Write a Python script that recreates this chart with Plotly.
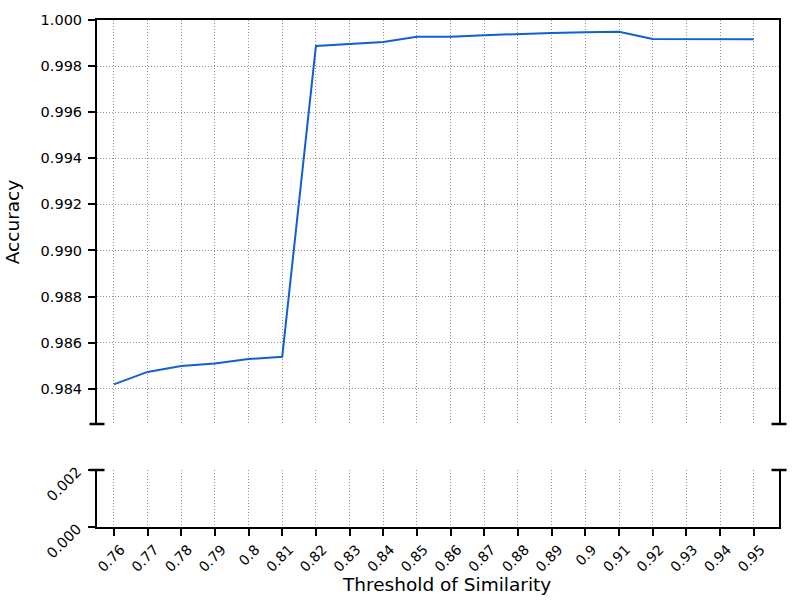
import plotly.graph_objects as go

thresholds = ["0.76", "0.77", "0.78", "0.79", "0.8", "0.81", "0.82", "0.83", "0.84", "0.85",
              "0.86", "0.87", "0.88", "0.89", "0.9", "0.91", "0.92", "0.93", "0.94", "0.95"]
accuracy = [0.98419, 0.98473, 0.98499, 0.98510, 0.98529, 0.98539, 0.99887, 0.99897, 0.99905, 0.99927,
            0.99927, 0.99934, 0.99940, 0.99944, 0.99947, 0.99949, 0.99918, 0.99918, 0.99918, 0.99917]
top_ticks = [0.984, 0.986, 0.988, 0.990, 0.992, 0.994, 0.996, 0.998, 1.000]
bottom_ticks = [0.000, 0.002]

idx = list(range(len(thresholds)))
FONT = "DejaVu Sans"
GRID = "#8f988f"
DOT = "1px,2px"
TOP_DOM = [(527 - 424) / 507, 1.0]
BOT_DOM = [0.0, (527 - 470) / 507]

fig = go.Figure()
fig.add_trace(go.Scatter(x=idx, y=accuracy, xaxis="x2", yaxis="y2", mode="lines",
                         line=dict(color="#1060d0", width=2), showlegend=False, hoverinfo="x+y"))
# same series on the lower (0-0.002) panel; it lies above that panel's range and is clipped away
fig.add_trace(go.Scatter(x=idx, y=accuracy, xaxis="x", yaxis="y", mode="lines",
                         line=dict(color="#1060d0", width=2), showlegend=False, hoverinfo="skip"))

common_x = dict(range=[-0.5, 19.75], tickvals=idx, ticktext=thresholds, automargin=False,
                showgrid=True, gridcolor=GRID, griddash=DOT, gridwidth=1, zeroline=False)

fig.update_layout(
    width=800, height=603,
    margin=dict(l=97, r=21, t=20, b=76),
    paper_bgcolor="white", plot_bgcolor="white",
    font=dict(family=FONT, size=14.5, color="black"),
    xaxis=dict(**common_x, anchor="y", showline=True, linecolor="black", linewidth=2,
               ticks="outside", ticklen=7, tickwidth=2, tickcolor="black", tickangle=-45,
               tickfont=dict(size=14), ticklabelshift=7, ticklabelstandoff=0),
    xaxis2=dict(**common_x, anchor="y2", matches="x", side="top", showline=True,
                linecolor="black", linewidth=2, ticks="", showticklabels=False),
    yaxis=dict(domain=BOT_DOM, range=[0, 0.002], tickvals=bottom_ticks, automargin=False,
               ticktext=["%.3f" % v for v in bottom_ticks], tickangle=-45,
               ticklabelstandoff=8,
               showline=True, mirror=True, linecolor="black", linewidth=2,
               ticks="outside", ticklen=7, tickwidth=2, tickcolor="black",
               showgrid=True, gridcolor=GRID, griddash=DOT, gridwidth=1, zeroline=False),
    yaxis2=dict(domain=TOP_DOM, range=[0.98247, 1.0], tickvals=top_ticks, automargin=False,
                ticktext=["%.3f" % v for v in top_ticks], anchor="x2", ticklabelstandoff=3,
                showline=True, mirror=True, linecolor="black", linewidth=2,
                ticks="outside", ticklen=7, tickwidth=2, tickcolor="black",
                showgrid=True, gridcolor=GRID, griddash=DOT, gridwidth=1, zeroline=False,
                title=dict(text="Accuracy", font=dict(size=18.5), standoff=16)),
)

fig.add_annotation(text="Threshold of Similarity", xref="paper", yref="paper",
                   x=(446 - 97) / 682, y=(527 - 584) / 507, xanchor="center", yanchor="middle",
                   showarrow=False, font=dict(size=18.5))

# break caps at the cut edges of both panels
hw = 7.5 / 682
for yv in (TOP_DOM[0], BOT_DOM[1]):
    for xv in (0.0, 1.0):
        fig.add_shape(type="line", xref="paper", yref="paper", x0=xv - hw, x1=xv + hw,
                      y0=yv, y1=yv, line=dict(color="black", width=2.5))

fig.write_html("out.html", config={"displayModeBar": False},
               post_script="document.body.style.margin='0px';")
